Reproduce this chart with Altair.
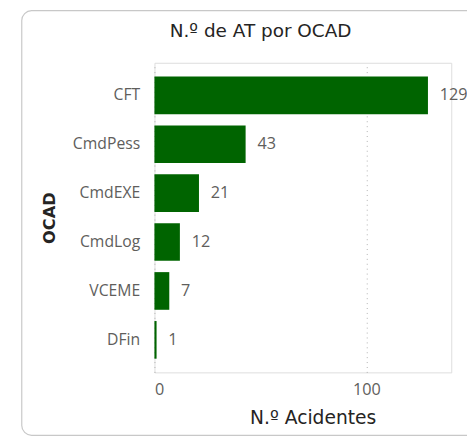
import altair as alt
import pandas as pd

categories = ["CFT", "CmdPess", "CmdEXE", "CmdLog", "VCEME", "DFin"]
values = [129, 43, 21, 12, 7, 1]
x_ticks = [0, 100]
chart_title = "N.º de AT por OCAD"

df = pd.DataFrame({"OCAD": categories, "Acidentes": values})

GREEN = "#006400"
LABEL = "#605E5C"
TITLE = "#252423"
TFONT = "DejaVu Sans"
LFONT = "Open Sans"

base = alt.Chart(df)

y_enc = alt.Y(
    "OCAD:N",
    sort=categories,
    title="OCAD",
    scale=alt.Scale(paddingInner=0.23, paddingOuter=0.28),
    axis=alt.Axis(
        domain=False, ticks=False, labelPadding=15, labelFontSize=16,
        labelColor=LABEL, labelFont=LFONT, titleFont=TFONT,
        titleFontSize=16.5, titleFontWeight=600, titleColor=TITLE, titlePadding=15,
    ),
)
x_enc = alt.X(
    "Acidentes:Q",
    title="N.º Acidentes",
    scale=alt.Scale(domain=[0, 140], nice=False),
    axis=alt.Axis(
        values=x_ticks, domain=False, ticks=False, grid=True,
        gridDash=[1, 4], gridColor="#B0B0B0", gridWidth=1,
        labelFontSize=16.5, labelColor=LABEL, labelFont=LFONT, labelPadding=10,
        titleFont=TFONT, titleFontSize=19, titleFontWeight="normal",
        titleColor=TITLE, titlePadding=11, titleX=161,
    ),
)

bars = base.mark_bar(color=GREEN).encode(x=x_enc, y=y_enc)
labels = base.mark_text(align="left", dx=12, fontSize=16.5, color=LABEL, font=LFONT).encode(
    x="Acidentes:Q", y=alt.Y("OCAD:N", sort=categories), text="Acidentes:Q"
)

card = alt.Chart(pd.DataFrame({"k": [0]})).mark_rect(
    fill="transparent", stroke="#C8C8C8", strokeWidth=1.2, cornerRadius=10, clip=False
).encode(
    x=alt.value(-135), x2=alt.value(345), y=alt.value(-53), y2=alt.value(379)
)

title_mark = alt.Chart(pd.DataFrame({"t": [chart_title]})).mark_text(
    font=TFONT, fontSize=18.75, color=TITLE, align="center", baseline="middle"
).encode(x=alt.value(108), y=alt.value(-32), text="t:N")

chart = alt.layer(card, title_mark, bars, labels).properties(
    width=302,
    height=315,
    autosize=alt.AutoSizeParams(type="none"),
    padding={"left": 149, "top": 52, "right": 16, "bottom": 62},
).configure_view(stroke=None).configure(background="white")

chart.save("out.html", embed_options={"renderer": "svg", "actions": False})
